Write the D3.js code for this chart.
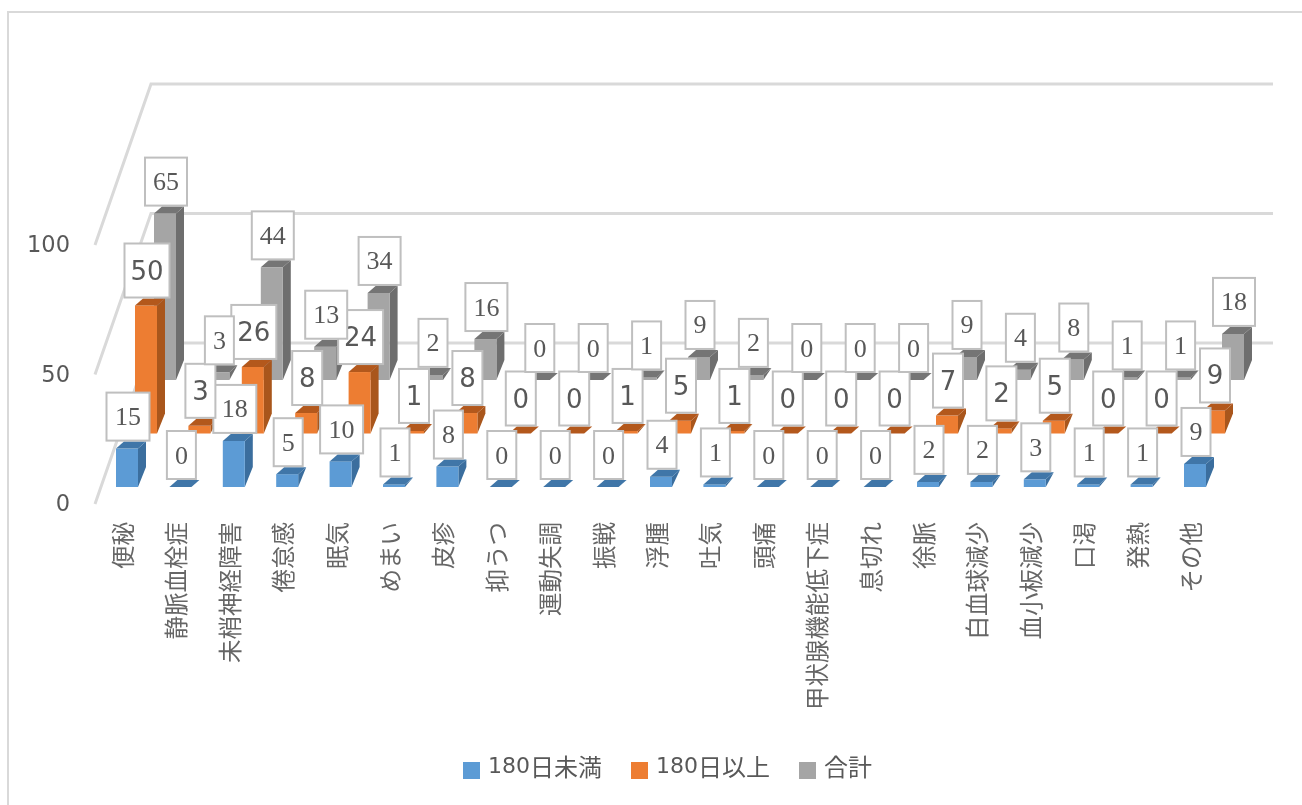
<!DOCTYPE html>
<html><head><meta charset="utf-8">
<script src="https://cdnjs.cloudflare.com/ajax/libs/d3/7.8.5/d3.min.js"></script>
<style>html,body{margin:0;padding:0;background:#fff}svg{display:block}</style></head>
<body><svg id="c" width="1302" height="805"></svg>
<script>
const categories=["便秘","静脈血栓症","未梢神経障害","倦怠感","眠気","めまい","皮疹","抑うつ","運動失調","振戦","浮腫","吐気","頭痛","甲状腺機能低下症","息切れ","徐脈","白血球減少","血小板減少","口渇","発熱","その他"];
const under180=[15,0,18,5,10,1,8,0,0,0,4,1,0,0,0,2,2,3,1,1,9];
const over180=[50,3,26,8,24,1,8,0,0,1,5,1,0,0,0,7,2,5,0,0,9];
const total=[65,3,44,13,34,2,16,0,0,1,9,2,0,0,0,9,4,8,1,1,18];
const seriesDigits=["180","180",""];
const seriesWords=["日未満","日以上","合計"];
const axisTicks=[0,50,100];

const svg=d3.select("#c");
const defs=svg.append("defs");
defs.append("filter").attr("id","soft").attr("filterUnits","userSpaceOnUse")
 .attr("x",0).attr("y",0).attr("width",1302).attr("height",805)
 .append("feGaussianBlur").attr("stdDeviation",0.5);
const root=svg.append("g").attr("filter","url(#soft)");

const W=22,DX=8,DY=7,SIDE=20;
const x=d3.scaleLinear().domain([0,20]).range([116,1184]);
const h=d3.scaleLinear().domain([0,100]).range([0,256]);
const backY=d3.scaleLinear().domain([0,100]).range([343,84]);
const frontY=d3.scaleLinear().domain([0,100]).range([504,245]);
const rows=[
 {vals:under180,dx:0,base:487,c:"#5B9BD5",top:"#3F76A8",side:"#3A6E9E",font:"'Liberation Serif'",fs:26,bw2:43,bw1:29,bh:48},
 {vals:over180,dx:19,base:433.5,c:"#ED7D31",top:"#B3591F",side:"#A9561D",font:"'DejaVu Sans'",fs:26,bw2:45,bw1:30,bh:54},
 {vals:total,dx:38,base:380,c:"#A5A5A5",top:"#747474",side:"#6E6E6E",font:"'Liberation Serif'",fs:26,bw2:42,bw1:29,bh:48}
];
root.append("path").attr("d","M8,805V12H1302").attr("fill","none").attr("stroke","#d9d9d9").attr("stroke-width",2);
const grid=root.append("g").attr("fill","none").attr("stroke","#d9d9d9").attr("stroke-width",3);
axisTicks.forEach(t=>{
  grid.append("path").attr("d",`M95,${frontY(t)}L151,${backY(t)}L1273,${backY(t)}`);
});
root.append("g").selectAll("text").data(axisTicks).join("text")
 .attr("x",70).attr("y",t=>frontY(t)-1).attr("text-anchor","end").attr("dominant-baseline","central")
 .attr("font-family","'DejaVu Sans'").attr("font-size",22.5).attr("fill","#595959").text(t=>t);
[...rows].reverse().forEach(r=>{
  const g=root.append("g");
  r.vals.forEach((v,i)=>{
    const x0=x(i)+r.dx,x1=x0+W,b=r.base,t=b-h(v);
    const sideB=Math.min(SIDE,h(v)+DY);
    if(v>0){
      g.append("path").attr("fill",r.side).attr("d",`M${x1},${t}L${x1+DX},${t-DY}L${x1+DX},${Math.max(b-sideB,t-DY)}L${x1},${b}Z`);
      g.append("rect").attr("x",x0).attr("y",t).attr("width",W).attr("height",h(v)).attr("fill",r.c);
    }
    g.append("path").attr("fill",r.top).attr("d",`M${x0},${t}L${x1},${t}L${x1+DX},${t-DY}L${x0+DX},${t-DY}Z`);
  });
});
rows.forEach(r=>{
  const g=root.append("g");
  r.vals.forEach((v,i)=>{
    const bw=v>=10?r.bw2:r.bw1;
    const cx=x(i)+r.dx+W/2+1,t=r.base-h(v)-8;
    g.append("rect").attr("x",cx-bw/2).attr("y",t-r.bh).attr("width",bw).attr("height",r.bh)
      .attr("fill","#fff").attr("stroke","#bfbfbf").attr("stroke-width",2);
    g.append("text").attr("x",cx).attr("y",t-r.bh/2).attr("text-anchor","middle").attr("dominant-baseline","central")
      .attr("font-family",r.font).attr("font-size",r.fs).attr("fill","#595959").text(v);
  });
});
const cjk="'Noto Sans CJK JP'";
root.append("g").selectAll("text").data(categories).join("text")
 .attr("transform",(d,i)=>`translate(${x(i)+6},522) rotate(-90)`)
 .attr("text-anchor","end").attr("dominant-baseline","central")
 .attr("font-family",cjk).attr("font-size",23.5).attr("fill","#666").text(d=>d);
const lg=root.append("g");
const legX=[463,631,799];
rows.forEach((r,i)=>{
  lg.append("rect").attr("x",legX[i]).attr("y",762).attr("width",17).attr("height",17).attr("fill",r.c);
  const t=lg.append("text").attr("x",legX[i]+25).attr("y",765).attr("dominant-baseline","central").attr("fill","#595959");
  t.append("tspan").attr("font-family","'DejaVu Sans'").attr("font-size",22).text(seriesDigits[i]);
  t.append("tspan").attr("font-family",cjk).attr("font-size",24).text(seriesWords[i]);
});
</script></body></html>
